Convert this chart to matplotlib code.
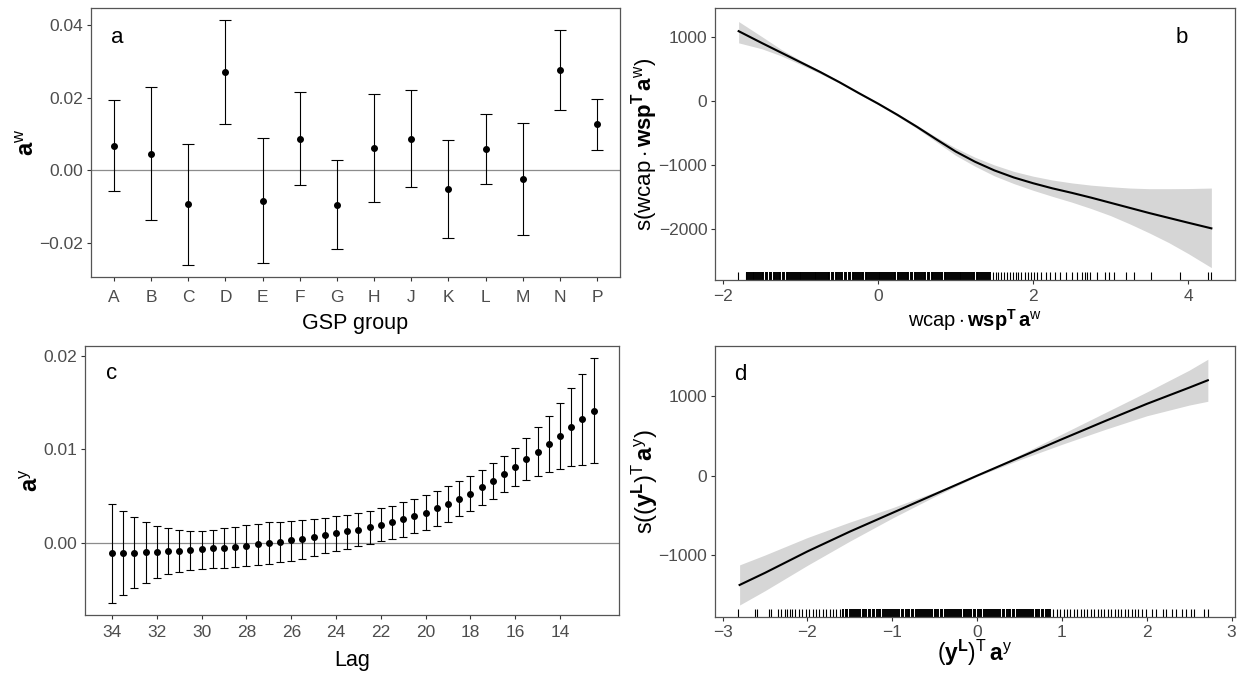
import matplotlib
matplotlib.use("Agg")
import matplotlib.pyplot as plt
import numpy as np

plt.rcParams['font.family'] = ['Liberation Sans', 'DejaVu Sans']
plt.rcParams['mathtext.fontset'] = 'custom'
plt.rcParams['mathtext.rm'] = 'Liberation Sans'
plt.rcParams['mathtext.bf'] = 'Liberation Sans:bold'
plt.rcParams['mathtext.it'] = 'Liberation Sans:italic'

# ---- panel a: GSP group coefficients
groups = ['A', 'B', 'C', 'D', 'E', 'F', 'G', 'H', 'J', 'K', 'L', 'M', 'N', 'P']
aw_est = [0.0068, 0.0045, -0.0094, 0.0272, -0.0083, 0.0088, -0.0095, 0.0062, 0.0088, -0.0051, 0.0059, -0.0024, 0.0276, 0.0128]
aw_low = [-0.0058, -0.0137, -0.0262, 0.0129, -0.0255, -0.0039, -0.0218, -0.0088, -0.0045, -0.0186, -0.0037, -0.0177, 0.0166, 0.0057]
aw_up = [0.0194, 0.0229, 0.0072, 0.0415, 0.0089, 0.0216, 0.0029, 0.0210, 0.0222, 0.0085, 0.0156, 0.0130, 0.0386, 0.0198]

# ---- panel c: lag coefficients
lags = [34, 33.5, 33, 32.5, 32, 31.5, 31, 30.5, 30, 29.5, 29, 28.5, 28, 27.5, 27, 26.5, 26, 25.5, 25, 24.5, 24, 23.5,
        23, 22.5, 22, 21.5, 21, 20.5, 20, 19.5, 19, 18.5, 18, 17.5, 17, 16.5, 16, 15.5, 15, 14.5, 14, 13.5, 13, 12.5]
ay_est = [-0.0011, -0.00106, -0.00103, -0.00099, -0.00096, -0.00089, -0.00082, -0.00074, -0.00067, -0.00057, -0.0005,
          -0.00039, -0.00028, -0.00014, 0.0, 0.00014, 0.00032, 0.00046, 0.00064, 0.00082, 0.00103, 0.00124, 0.00145,
          0.00167, 0.00195, 0.0022, 0.00252, 0.00291, 0.00326, 0.00372, 0.00418, 0.00472, 0.00528, 0.00596, 0.00663,
          0.00734, 0.00816, 0.00894, 0.00975, 0.0106, 0.01145, 0.01234, 0.01319, 0.01411]
ay_up = [0.00415, 0.0034, 0.00277, 0.00223, 0.00184, 0.00156, 0.00135, 0.00131, 0.00131, 0.00142, 0.0016, 0.00174,
         0.00195, 0.00209, 0.0022, 0.0023, 0.0024, 0.0025, 0.0026, 0.0027, 0.0029, 0.00305, 0.0032, 0.0034, 0.0037,
         0.004, 0.0044, 0.0047, 0.0051, 0.0056, 0.0061, 0.0066, 0.0072, 0.0078, 0.0085, 0.0093, 0.0102, 0.0112,
         0.0124, 0.0136, 0.0150, 0.0165, 0.0180, 0.0197]
ay_low = [-0.00635, -0.00557, -0.00482, -0.00422, -0.00372, -0.00333, -0.00305, -0.00287, -0.00277, -0.0027, -0.00262,
          -0.00255, -0.00248, -0.00234, -0.0022, -0.00206, -0.00188, -0.00167, -0.00138, -0.0011, -0.00085, -0.0006,
          -0.00035, -0.0001, 0.00018, 0.00043, 0.0007, 0.00106, 0.00142, 0.00184, 0.0023, 0.00284, 0.00344, 0.00408,
          0.0047, 0.0054, 0.0061, 0.0067, 0.0072, 0.0076, 0.0079, 0.0082, 0.0083, 0.0085]

# ---- panel b: smooth of wcap . wsp^T a^w
bx = [-1.8, -1.5, -1.25, -1.0, -0.75, -0.5, -0.25, 0.0, 0.25, 0.5, 0.75, 1.0, 1.25, 1.5, 1.75, 2.0, 2.25, 2.5,
      2.75, 3.0, 3.25, 3.5, 3.75, 4.0, 4.3]
b_fit = [1085, 900, 750, 600, 450, 290, 120, -45, -220, -405, -600, -790, -950, -1085, -1195, -1285, -1365, -1435,
         -1510, -1590, -1670, -1750, -1825, -1900, -1988]
b_up = [1235, 1000, 800, 630, 470, 305, 135, -30, -200, -380, -565, -735, -880, -1000, -1100, -1175, -1235, -1280,
        -1315, -1340, -1360, -1370, -1370, -1368, -1360]
b_low = [903, 810, 700, 565, 425, 275, 105, -60, -240, -430, -640, -850, -1020, -1170, -1290, -1395, -1490, -1580,
         -1680, -1790, -1920, -2060, -2210, -2380, -2600]
b_rug_dense = [-1.69, -1.67, -1.64, -1.62, -1.6, -1.57, -1.55, -1.52, -1.5, -1.48, -1.45, -1.43, -1.4, -1.38,
               -1.35, -1.33, -1.31, -1.28, -1.26, -1.23, -1.21, -1.18, -1.16, -1.14, -1.11, -1.09, -1.06, -1.04, -1.01,
               -0.99, -0.97, -0.94, -0.92, -0.89, -0.87, -0.84, -0.82, -0.8, -0.77, -0.75, -0.72, -0.7, -0.67, -0.65,
               -0.63, -0.6, -0.58, -0.55, -0.53, -0.5, -0.48, -0.46, -0.43, -0.41, -0.38, -0.36, -0.33, -0.31, -0.29,
               -0.26, -0.24, -0.21, -0.19, -0.16, -0.14, -0.12, -0.09, -0.07, -0.04, -0.02, 0.01, 0.03, 0.05, 0.08, 0.1,
               0.13, 0.15, 0.18, 0.2, 0.22, 0.25, 0.27, 0.3, 0.32, 0.35, 0.37, 0.39, 0.42, 0.44, 0.47, 0.49, 0.52, 0.54,
               0.56, 0.59, 0.61, 0.64, 0.66, 0.69, 0.71, 0.73, 0.76, 0.78, 0.81, 0.83, 0.86, 0.88, 0.9, 0.93, 0.95, 0.98,
               1.0, 1.03, 1.05, 1.07, 1.1, 1.12, 1.15, 1.17, 1.2, 1.22, 1.24, 1.27, 1.29, 1.32, 1.34, 1.37, 1.39, 1.42,
               1.44]
b_rug_sparse = [-1.81, -1.7, 1.48, 1.52, 1.55, 1.59, 1.63, 1.66, 1.7, 1.74, 1.78, 1.81, 1.85, 1.89, 1.93, 1.97,
                2.01, 2.05, 2.1, 2.16, 2.22, 2.28, 2.35, 2.43, 2.5, 2.56, 2.63, 2.67, 2.7, 2.73, 2.82, 2.93, 2.98, 3.05,
                3.2, 3.3, 3.52, 3.9, 4.26, 4.3]

# ---- panel d: smooth of (y^L)^T a^y
dx = [-2.8, -2.5, -2.0, -1.5, -1.0, -0.5, 0.0, 0.5, 1.0, 1.5, 2.0, 2.5, 2.72]
d_fit = [-1378, -1225, -955, -705, -470, -235, 0, 230, 460, 685, 905, 1110, 1203]
d_up = [-1125, -1000, -780, -585, -405, -207, 8, 260, 525, 790, 1055, 1330, 1468]
d_low = [-1631, -1450, -1130, -825, -535, -263, -8, 200, 395, 580, 755, 890, 938]
d_rug_dense = [-1.58, -1.55, -1.53, -1.5, -1.48, -1.45, -1.43, -1.4, -1.38, -1.35, -1.33, -1.31, -1.28, -1.26,
               -1.23, -1.21, -1.18, -1.16, -1.14, -1.11, -1.09, -1.06, -1.04, -1.01, -0.99, -0.97, -0.94, -0.92, -0.89,
               -0.87, -0.84, -0.82, -0.8, -0.77, -0.75, -0.72, -0.7, -0.67, -0.65, -0.63, -0.6, -0.58, -0.55, -0.53,
               -0.5, -0.48, -0.46, -0.43, -0.41, -0.38, -0.36, -0.33, -0.31, -0.29, -0.26, -0.24, -0.21, -0.19, -0.16,
               -0.14, -0.12, -0.09, -0.07, -0.04, -0.02, 0.01, 0.03, 0.05, 0.08, 0.1, 0.13, 0.15, 0.18, 0.2, 0.22,
               0.25, 0.27, 0.3, 0.32, 0.35, 0.37, 0.39, 0.42, 0.44, 0.47, 0.49, 0.52, 0.54, 0.56, 0.59, 0.61, 0.64,
               0.66, 0.69, 0.71, 0.73, 0.76, 0.78, 0.81, 0.83, 0.86]
d_rug_sparse = [-2.82, -2.62, -2.6, -2.45, -2.43, -2.35, -2.31, -2.27, -2.24, -2.2, -2.18, -2.15, -2.1, -2.06,
                -2.02, -1.98, -1.94, -1.9, -1.86, -1.82, -1.78, -1.74, -1.7, -1.66, -1.62, 0.9, 0.94, 0.98, 1.02,
                1.06, 1.1, 1.14, 1.18, 1.22, 1.26, 1.3, 1.34, 1.38, 1.42, 1.46, 1.5, 1.54, 1.58, 1.62, 1.66, 1.7, 1.74,
                1.78, 1.82, 1.86, 1.9, 1.94, 1.99, 2.06, 2.11, 2.19, 2.23, 2.3, 2.35, 2.41, 2.46, 2.52, 2.56, 2.67,
                2.72]

W, H = 1242, 675
fig = plt.figure(figsize=(W / 100, H / 100), dpi=100)


def rect(l, r, t, b):
    return [l / W, 1 - b / H, (r - l) / W, (b - t) / H]


ax_a = fig.add_axes(rect(91, 620, 8, 277))
ax_b = fig.add_axes(rect(715, 1235, 8, 280))
ax_c = fig.add_axes(rect(84.5, 619, 346, 615))
ax_d = fig.add_axes(rect(715, 1235, 346, 617))

gray = '#4D4D4D'
for ax in (ax_a, ax_b, ax_c, ax_d):
    for s in ax.spines.values():
        s.set_color('#555555')
        s.set_linewidth(0.9)
    ax.tick_params(colors='#333333', labelcolor=gray, labelsize=12.5, length=3, width=0.8)
    ax.tick_params(axis='y', pad=2.5)

# a
xa = np.arange(len(groups))
aw_est_ = np.array(aw_est)
ax_a.axhline(0, color='#8C8C8C', lw=0.9, zorder=1)
ax_a.errorbar(xa, aw_est_, yerr=[aw_est_ - np.array(aw_low), np.array(aw_up) - aw_est_], fmt='o', color='black',
              ms=4, elinewidth=0.8, capsize=4.3, capthick=0.8, zorder=3)
ax_a.set_xticks(xa)
ax_a.set_xticklabels(groups)
ax_a.tick_params(axis='x', pad=6.5)
ax_a.set_xlim(-0.62, len(groups) - 1 + 0.62)
ax_a.set_ylim(-0.0294, 0.0448)
ax_a.set_yticks([-0.02, 0.0, 0.02, 0.04])
ax_a.set_yticklabels(['\u22120.02', '0.00', '0.02', '0.04'])
ax_a.set_xlabel('GSP group', fontsize=15.5, labelpad=5.5)
ax_a.set_ylabel(r'$\mathbf{a}^{\mathrm{w}}$', fontsize=17, labelpad=0)
ax_a.text(0.049, 0.892, 'a', transform=ax_a.transAxes, fontsize=16, va='center', ha='center')

# c
ay_est_ = np.array(ay_est)
ax_c.axhline(0, color='#8C8C8C', lw=0.9, zorder=1)
ax_c.errorbar(lags, ay_est_, yerr=[ay_est_ - np.array(ay_low), np.array(ay_up) - ay_est_], fmt='o', color='black',
              ms=4, elinewidth=0.8, capsize=2.9, capthick=0.8, zorder=3)
ax_c.set_xlim(35.23, 11.37)
ax_c.set_xticks([34, 32, 30, 28, 26, 24, 22, 20, 18, 16, 14])
ax_c.tick_params(axis='x', pad=4.5)
ax_c.set_ylim(-0.00767, 0.02103)
ax_c.set_yticks([0.0, 0.01, 0.02])
ax_c.set_yticklabels(['0.00', '0.01', '0.02'])
ax_c.set_xlabel('Lag', fontsize=15.5, labelpad=7)
ax_c.set_ylabel(r'$\mathbf{a}^{\mathrm{y}}$', fontsize=17, labelpad=0)
ax_c.text(0.051, 0.896, 'c', transform=ax_c.transAxes, fontsize=16, va='center', ha='center')

# b
ax_b.fill_between(bx, b_low, b_up, color='#D6D6D6', lw=0, zorder=1)
ax_b.plot(bx, b_fit, color='black', lw=1.5, zorder=2)
ax_b.vlines(b_rug_dense, 0, 0.03, transform=ax_b.get_xaxis_transform(), color='black', lw=1.4)
ax_b.vlines(b_rug_sparse, 0, 0.03, transform=ax_b.get_xaxis_transform(), color='black', lw=0.8)
ax_b.set_xlim(-2.105, 4.605)
ax_b.set_ylim(-2793, 1446)
ax_b.set_xticks([-2, 0, 2, 4])
ax_b.set_yticks([-2000, -1000, 0, 1000])
ax_b.tick_params(axis='x', pad=3.5)
ax_b.set_xlabel(r'$\mathrm{wcap}\cdot\mathbf{wsp}^{\mathbf{T}}\,\mathbf{a}^{\mathrm{w}}$', fontsize=14.5, labelpad=2)
ax_b.set_ylabel(r'$\mathrm{s(wcap}\cdot\mathbf{wsp}^{\mathbf{T}}\,\mathbf{a}^{\mathrm{w}}\mathrm{)}$', fontsize=16,
                labelpad=-1)
ax_b.text(0.898, 0.892, 'b', transform=ax_b.transAxes, fontsize=16, va='center', ha='center')

# d
ax_d.fill_between(dx, d_low, d_up, color='#D6D6D6', lw=0, zorder=1)
ax_d.plot(dx, d_fit, color='black', lw=1.5, zorder=2)
ax_d.vlines(d_rug_dense, 0, 0.03, transform=ax_d.get_xaxis_transform(), color='black', lw=1.4)
ax_d.vlines(d_rug_sparse, 0, 0.03, transform=ax_d.get_xaxis_transform(), color='black', lw=0.8)
ax_d.set_xlim(-3.09, 3.04)
ax_d.set_ylim(-1782, 1635)
ax_d.set_xticks([-3, -2, -1, 0, 1, 2, 3])
ax_d.set_yticks([-1000, 0, 1000])
ax_d.tick_params(axis='x', pad=2.5)
ax_d.set_xlabel(r'$\mathrm{(}\mathbf{y}^{\mathbf{L}}\mathrm{)}^{\mathrm{T}}\,\mathbf{a}^{\mathrm{y}}$', fontsize=16.5,
                labelpad=-1)
ax_d.set_ylabel(r'$\mathrm{s((}\mathbf{y}^{\mathbf{L}}\mathrm{)}^{\mathrm{T}}\,\mathbf{a}^{\mathrm{y}}\mathrm{)}$',
                fontsize=17, labelpad=-1)
ax_d.text(0.048, 0.896, 'd', transform=ax_d.transAxes, fontsize=16, va='center', ha='center')

fig.savefig('out.png', dpi=100)
